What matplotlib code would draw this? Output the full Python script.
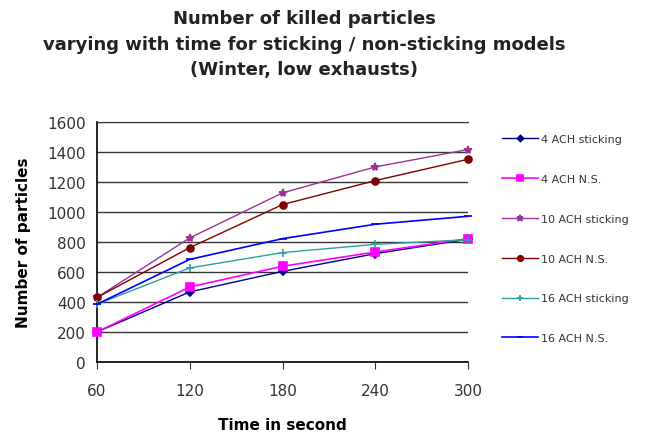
import matplotlib
matplotlib.use("Agg")
import matplotlib.pyplot as plt

# time in seconds
times = [60, 120, 180, 240, 300]

# number of killed particles per series
ach4_stick = [200, 467, 604, 722, 818]
ach4_ns = [200, 500, 638, 733, 822]
ach10_stick = [430, 827, 1127, 1300, 1416]
ach10_ns = [430, 762, 1049, 1209, 1351]
ach16_stick = [385, 627, 729, 784, 815]
ach16_ns = [385, 684, 822, 918, 971]

labels = ["4 ACH sticking", "4 ACH N.S.", "10 ACH sticking",
          "10 ACH N.S.", "16 ACH sticking", "16 ACH N.S."]

plt.rcParams['font.family'] = ['DejaVu Sans']

fig = plt.figure(figsize=(6.58, 4.35), dpi=100)
ax = fig.add_axes([0.1474, 0.1655, 0.564, 0.552])

series = [
    (ach4_stick, '#000080', 'D', 4, 1.0),
    (ach4_ns, '#FF00FF', 's', 6, 1.2),
    (ach10_stick, '#993399', '*', 6, 1.0),
    (ach10_ns, '#800000', 'o', 5, 1.0),
    (ach16_stick, '#2AA0A0', '+', 6, 1.0),
    (ach16_ns, '#0000FF', '_', 6, 1.2),
]

for (vals, col, mk, ms, lw), lab in zip(series, labels):
    ax.plot(times, vals, color=col, marker=mk, markersize=ms, linewidth=lw,
            markeredgewidth=1.2, label=lab, clip_on=False, zorder=3)

ax.set_xlim(60, 300)
ax.set_ylim(0, 1600)
ax.set_xticks(times)
ax.set_yticks(range(0, 1601, 200))
ax.yaxis.grid(True, color='#333333', linewidth=1.0)
ax.set_axisbelow(True)
ax.spines['right'].set_visible(False)
ax.spines['top'].set_color('#333333')
for s in ['left', 'bottom']:
    ax.spines[s].set_linewidth(1.2)
ax.tick_params(axis='y', length=0, labelsize=11, pad=8, colors='#333333')
ax.tick_params(axis='x', direction='out', length=5, labelsize=11, pad=10, colors='#333333')

ax.set_xlabel("Time in second", fontsize=11, fontweight='bold', labelpad=14)
ax.set_ylabel("Number of particles", fontsize=11, fontweight='bold', labelpad=12)

title_lines = ["Number of killed particles",
               "varying with time for sticking / non-sticking models",
               "(Winter, low exhausts)"]
for yy, txt in zip([0.957, 0.897, 0.838], title_lines):
    fig.text(0.462, yy, txt, ha='center', va='center', fontsize=13,
             fontweight='bold', color='#222222')

leg = fig.legend(loc='upper left', bbox_to_anchor=(0.748, 0.712), frameon=False,
                 fontsize=8, labelspacing=2.68, handlelength=3.2, handletextpad=0.3,
                 markerscale=0.8)
for t in leg.get_texts():
    t.set_color('#333333')

fig.savefig("out.png", dpi=100)
plt.close(fig)
